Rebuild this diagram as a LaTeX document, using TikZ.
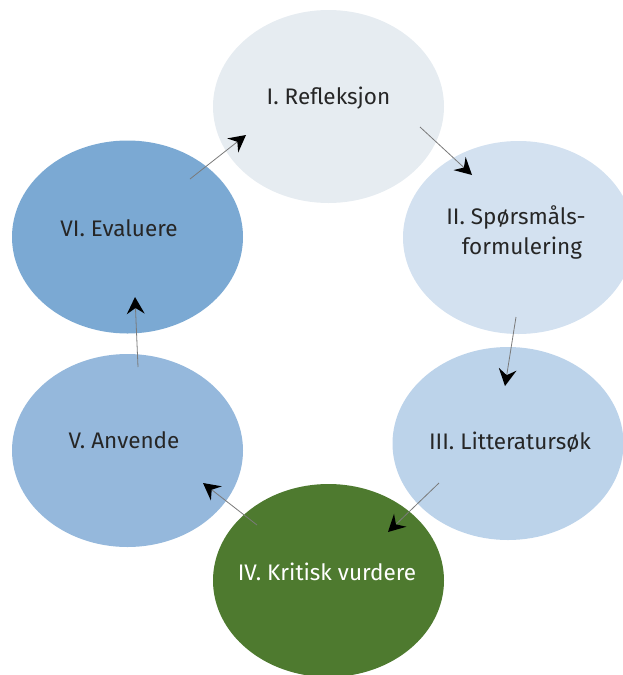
\documentclass[tikz,border=0pt]{standalone}
\usepackage{fontspec}
\setmainfont{Fira Sans}
\usetikzlibrary{shapes.geometric,calc}
\definecolor{cI}{HTML}{E6ECF1}
\definecolor{cII}{HTML}{D3E1F0}
\definecolor{cIII}{HTML}{BCD3EA}
\definecolor{cIV}{HTML}{4E7A2F}
\definecolor{cV}{HTML}{95B8DC}
\definecolor{cVI}{HTML}{7BA9D3}
\definecolor{txt}{HTML}{262626}
\definecolor{lin}{HTML}{7A7A7A}
\tikzset{
  stage/.style={ellipse, draw=none, minimum width=231pt, minimum height=193pt, inner sep=0pt},
  label/.style={text=txt, font=\fontsize{22.5}{30}\selectfont, align=center, inner sep=0pt},
  conn/.style={draw=lin, line width=0.8pt},
  headfill/.style={fill=black}
}
\newcommand\mydart[2]{%
  \coordinate (tmpB) at ($(#2)!17pt!(#1)$);
  \coordinate (tmpN) at ($(#2)!11pt!(#1)$);
  \draw[conn] (#1) -- (tmpN);
  \fill[headfill] (#2) -- ($(tmpB)!9pt!90:(#1)$) -- (tmpN) -- ($(tmpB)!9pt!-90:(#1)$) -- cycle;
}
\begin{document}
\begin{tikzpicture}[x=1pt,y=-1pt]
\useasboundingbox (0,0) rectangle (623,675);
\node[stage, fill=cI] (s1) at (328.5,106.5) {};
\node[stage, fill=cII] (s2) at (518.5,237.5) {};
\node[stage, fill=cIII] (s3) at (508,443.5) {};
\node[stage, fill=cIV] (s4) at (328.5,580.5) {};
\node[stage, fill=cV] (s5) at (127.5,450.5) {};
\node[stage, fill=cVI] (s6) at (127.5,237) {};
\node[label] (t1) at (328.5,98) {I. Refleksjon};
\node[label] (t2) at (516,232.5) {II. Spørsmåls-\\ \ \ formulering};
\node[label] (t3) at (510,442) {III. Litteratursøk};
\node[label, text=white] (t4) at (327,572) {IV. Kritisk vurdere};
\node[label] (t5) at (124,440) {V. Anvende};
\node[label] (t6) at (119,228) {VI. Evaluere};
\coordinate (a1s) at (190,179); \coordinate (a1e) at (246,135);
\coordinate (a2s) at (420,127); \coordinate (a2e) at (472,175);
\coordinate (a3s) at (516,317); \coordinate (a3e) at (505,386);
\coordinate (a4s) at (439,483); \coordinate (a4e) at (388,532);
\coordinate (a5s) at (257,525); \coordinate (a5e) at (203,483);
\coordinate (a6s) at (138,367); \coordinate (a6e) at (135,297);
\mydart{a1s}{a1e}
\mydart{a2s}{a2e}
\mydart{a3s}{a3e}
\mydart{a4s}{a4e}
\mydart{a5s}{a5e}
\mydart{a6s}{a6e}
\end{tikzpicture}
\end{document}
